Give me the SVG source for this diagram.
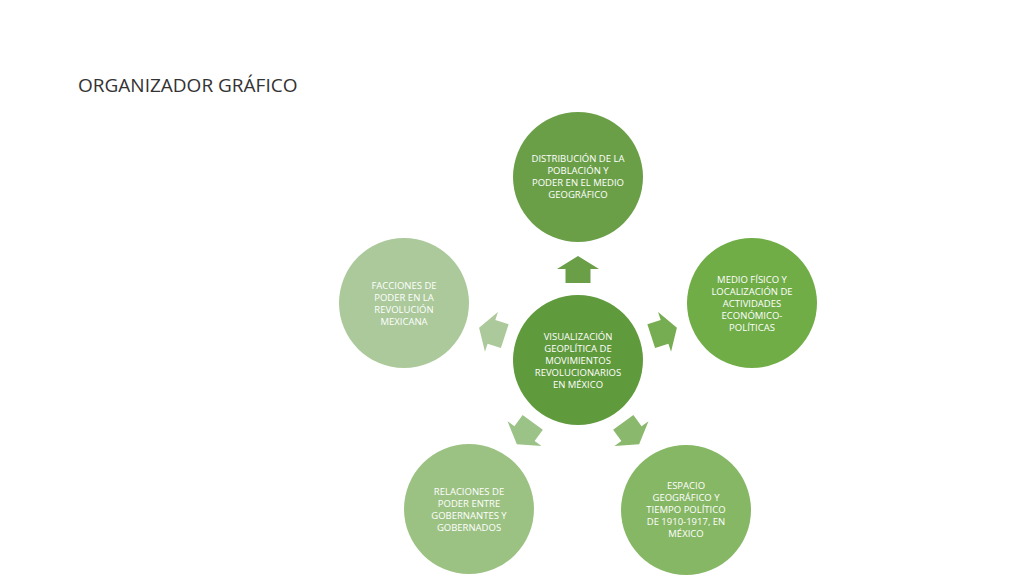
<svg xmlns="http://www.w3.org/2000/svg" width="1024" height="576" viewBox="0 0 1024 576">
<style>
.t{font-family:"Open Sans","Liberation Sans",sans-serif;font-size:9.5px;fill:#fff;text-anchor:middle}
.title{font-family:"Open Sans","Liberation Sans",sans-serif;font-size:19px;fill:#333}
</style>
<defs><path id="ar" d="M0,-14 L21,-1 L12.5,-1 L12.5,13 L-12.5,13 L-12.5,-1 L-21,-1 Z"/></defs>
<rect width="1024" height="576" fill="#fff"/>
<text class="title" x="78" y="92">ORGANIZADOR GRÁFICO</text>
<g id="connectors">
<use href="#ar" transform="rotate(0 578 360) translate(578 270)" fill="#6a9f48"/>
<use href="#ar" transform="rotate(72 578 360) translate(578 270)" fill="#77ad52"/>
<use href="#ar" transform="rotate(144 578 360) translate(578 270)" fill="#8ab86c"/>
<use href="#ar" transform="rotate(216 578 360) translate(578 270)" fill="#9cc387"/>
<use href="#ar" transform="rotate(288 578 360) translate(578 270)" fill="#abc99a"/>
</g>
<g id="center"><circle cx="578" cy="360" r="65" fill="#5f9a3c"/>
<text class="t" y="340"><tspan x="578">VISUALIZACIÓN</tspan><tspan x="578" dy="12">GEOPLÍTICA DE</tspan><tspan x="578" dy="12">MOVIMIENTOS</tspan><tspan x="578" dy="12">REVOLUCIONARIOS</tspan><tspan x="578" dy="12">EN MÉXICO</tspan></text></g>
<g id="top"><circle cx="578" cy="177" r="65" fill="#6a9f48"/>
<text class="t" y="162"><tspan x="578">DISTRIBUCIÓN DE LA</tspan><tspan x="578" dy="12">POBLACIÓN Y</tspan><tspan x="578" dy="12">PODER EN EL MEDIO</tspan><tspan x="578" dy="12">GEOGRÁFICO</tspan></text></g>
<g id="right"><circle cx="752" cy="303" r="65" fill="#70ad47"/>
<text class="t" y="283"><tspan x="752">MEDIO FÍSICO Y</tspan><tspan x="752" dy="12">LOCALIZACIÓN DE</tspan><tspan x="752" dy="12">ACTIVIDADES</tspan><tspan x="752" dy="12">ECONÓMICO-</tspan><tspan x="752" dy="12">POLÍTICAS</tspan></text></g>
<g id="bottomright"><circle cx="686" cy="510" r="65" fill="#86b764"/>
<text class="t" y="489"><tspan x="686">ESPACIO</tspan><tspan x="686" dy="12">GEOGRÁFICO Y</tspan><tspan x="686" dy="12">TIEMPO POLÍTICO</tspan><tspan x="686" dy="12">DE 1910-1917,  EN</tspan><tspan x="686" dy="12">MÉXICO</tspan></text></g>
<g id="bottomleft"><circle cx="469" cy="509" r="65" fill="#9cc283"/>
<text class="t" y="495"><tspan x="469">RELACIONES DE</tspan><tspan x="469" dy="12">PODER ENTRE</tspan><tspan x="469" dy="12">GOBERNANTES Y</tspan><tspan x="469" dy="12">GOBERNADOS</tspan></text></g>
<g id="left"><circle cx="404" cy="303" r="65" fill="#abc99a"/>
<text class="t" y="289"><tspan x="404">FACCIONES DE</tspan><tspan x="404" dy="12">PODER EN LA</tspan><tspan x="404" dy="12">REVOLUCIÓN</tspan><tspan x="404" dy="12">MEXICANA</tspan></text></g>
</svg>
